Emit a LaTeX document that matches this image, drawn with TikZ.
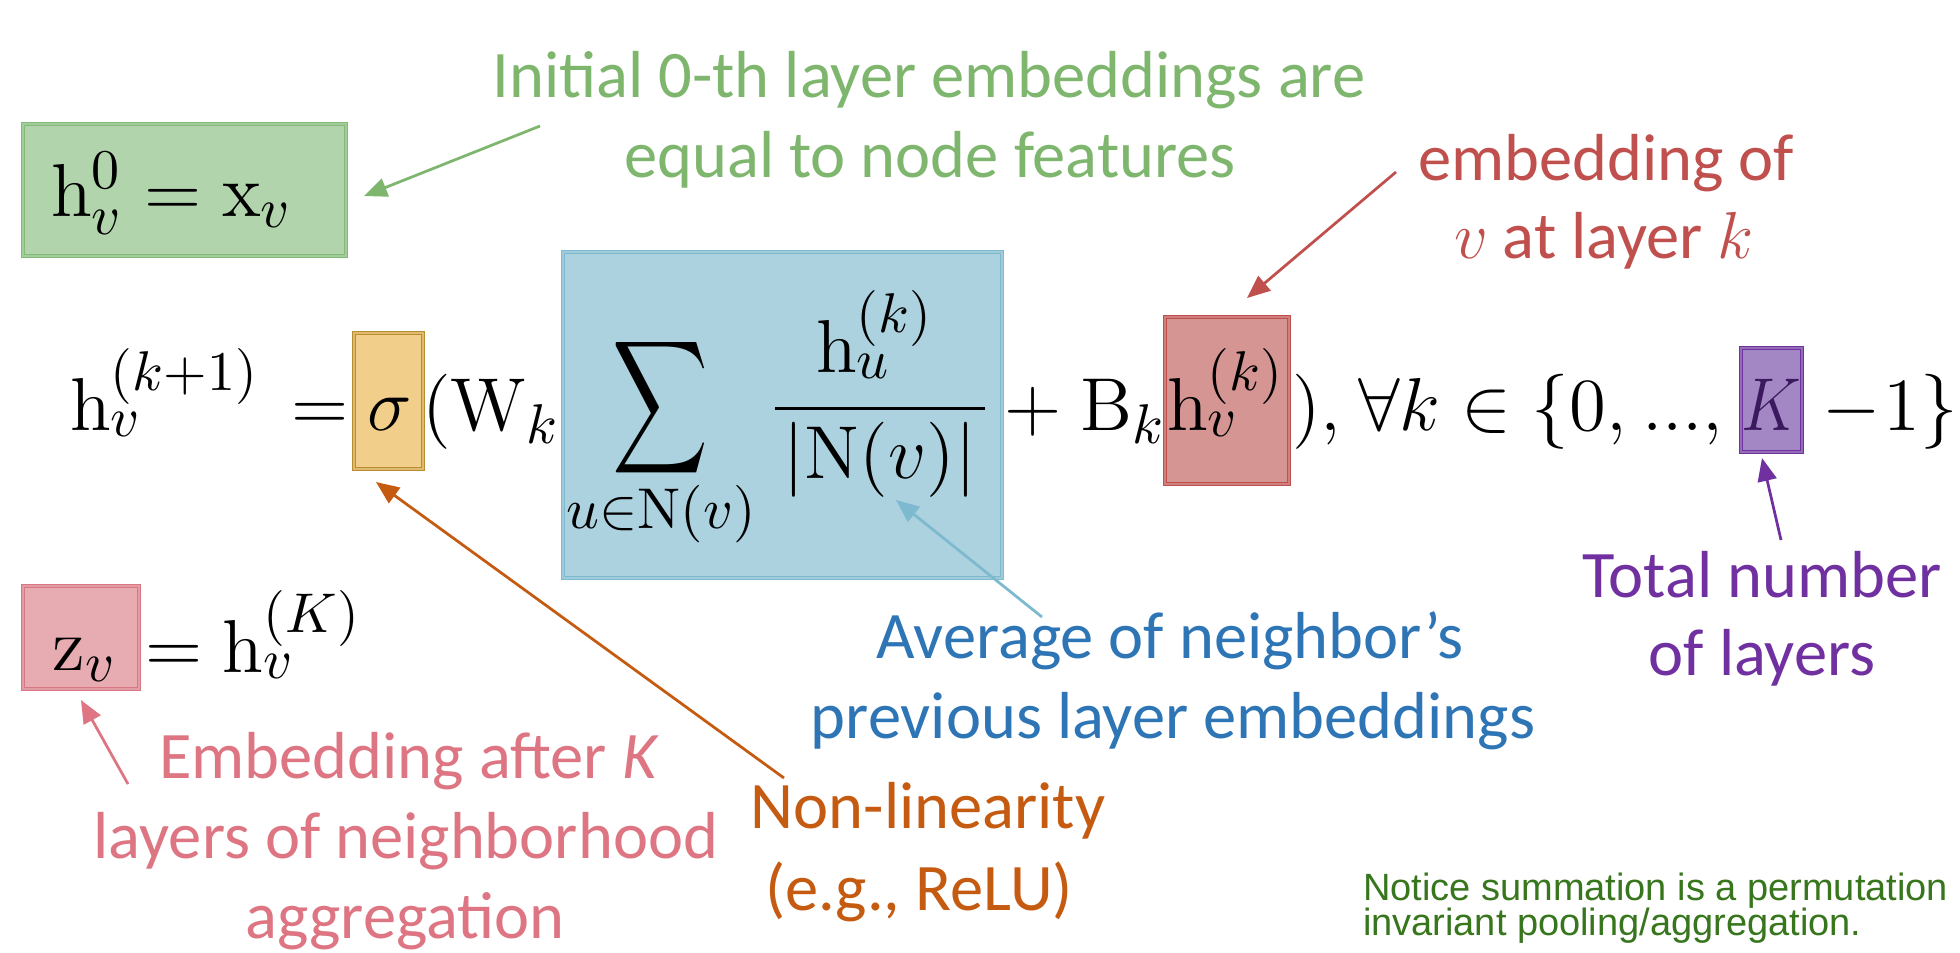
\RequirePackage{fix-cm}
\documentclass[tikz,border=0pt]{standalone}
\usepackage[no-math]{fontspec}
\setmainfont{Carlito}
\newfontfamily\notefont{Liberation Sans}
\usepackage{graphicx}
\usetikzlibrary{arrows.meta}
\DeclareMathSizes{15}{15}{11.2}{8.5}
\DeclareMathSizes{13.3}{13.3}{9.8}{7.5}
\definecolor{gTxt}{RGB}{126,182,110}
\definecolor{gFill}{RGB}{177,212,172}
\definecolor{gLine}{RGB}{130,186,118}
\definecolor{oTxt}{RGB}{197,90,17}
\definecolor{oFill}{RGB}{241,206,137}
\definecolor{oLine}{RGB}{184,140,48}
\definecolor{bTxt}{RGB}{46,117,182}
\definecolor{bFill}{RGB}{173,210,223}
\definecolor{bLine}{RGB}{125,185,207}
\definecolor{rTxt}{RGB}{192,80,77}
\definecolor{rFill}{RGB}{212,149,147}
\definecolor{rLine}{RGB}{192,80,77}
\definecolor{pTxt}{RGB}{112,48,160}
\definecolor{pFill}{RGB}{163,135,196}
\definecolor{pLine}{RGB}{112,48,160}
\definecolor{pDark}{RGB}{60,25,95}
\definecolor{kTxt}{RGB}{221,117,130}
\definecolor{kFill}{RGB}{230,172,178}
\definecolor{kLine}{RGB}{218,118,130}
\definecolor{nTxt}{RGB}{56,118,29}
\begin{document}
\begin{tikzpicture}[x=0.2pt,y=-0.2pt,
  every node/.style={inner sep=0pt,outer sep=0pt},
  fml/.style={font=\fontsize{15}{18}\selectfont,text=black,anchor=base west},
  ann/.style={font=\fontsize{13.3}{16}\selectfont,anchor=base},
  hbox/.style={draw,line width=0.3pt,double distance=0.25pt},
  arr/.style={line width=0.55pt,-{Triangle[length=4.6pt,width=3.8pt]}},
  note/.style={font=\notefont\fontsize{7.6}{9}\selectfont,text=nTxt,anchor=base west}]
\useasboundingbox (0,0) rectangle (1960,952);
\fill[white] (0,0) rectangle (1960,952);
% highlight boxes
\node[hbox,draw=gLine,double=gFill!70!gLine,fill=gFill,minimum width=64.6pt,minimum height=26.4pt] (greenbox) at (184.5,190) {};
\node[hbox,draw=oLine,double=oFill!70!oLine,fill=oFill,minimum width=13.8pt,minimum height=27.2pt] (orangebox) at (388.5,401) {};
\node[hbox,draw=bLine,double=bFill!70!bLine,fill=bFill,minimum width=87.8pt,minimum height=65.2pt] (bluebox) at (782.5,415) {};
\node[hbox,draw=rLine,double=rFill!70!rLine,fill=rFill,minimum width=24.8pt,minimum height=33.4pt] (redbox) at (1227,400.5) {};
\node[hbox,draw=pLine,double=pFill!70!pLine,fill=pFill,minimum width=12.2pt,minimum height=20.8pt] (purplebox) at (1771.5,400) {};
\node[hbox,draw=kLine,double=kFill!70!kLine,fill=kFill,minimum width=23.2pt,minimum height=20.6pt] (pinkbox) at (81,637.5) {};
% formulas
\node[fml] (h0) at (51,216) {$\mathrm{h}_v^0 = \mathrm{x}_v$};
\node[fml] (m1) at (70,430) {$\mathrm{h}_v^{(k+1)}$};
\node[fml,anchor=base] (m2) at (320,430) {$=$};
\node[fml,anchor=base] (m3) at (390,430) {$\sigma$};
\node[fml] (m4) at (422,430) {$(\mathrm{W}_k$};
\node (m5) at (660,407.5) {\resizebox*{19.2pt}{29.8pt}{$\displaystyle\sum$}};
\node[font=\fontsize{11.5}{14}\selectfont,anchor=base] (m6) at (661,528) {$u{\in}\mathrm{N}(v)$};
\node[fml] (m7) at (816,372) {$\mathrm{h}_u^{(k)}$};
\draw[line width=0.6pt] (775,408) -- (985,408);
\node[fml,anchor=base] (m8) at (880,478) {$|\mathrm{N}(v)|$};
\node[fml] (m9) at (1004,430) {$+$};
\node[fml] (m10) at (1080,430) {$\mathrm{B}_k$};
\node[fml] (m11) at (1167,430) {$\mathrm{h}_v^{(k)}$};
\node[fml] (m12) at (1292,430) {$),$};
\node[fml] (m13) at (1358,430) {$\forall k \in \{0,$};
\node[fml] (m13b) at (1642,430) {$\mathord{.}\mathord{.}\mathord{.}{,}$};
\node[fml,anchor=base,text=pDark] (m14) at (1771,430) {\scalebox{0.88}[1]{$K$}};
\node[fml] (m15) at (1822,430) {$-$};
\node[fml,anchor=base east] (m16) at (1958,430) {$1\}$};
\node[fml] (z1) at (53,670) {$\mathrm{z}_v$};
\node[fml] (z2) at (145,672) {$=\mathrm{h}_v^{(K)}$};
% annotations
\node[ann,text=gTxt] (g1) at (929,97) {Initial 0-th layer embeddings are};
\node[ann,text=gTxt] (g2) at (930,177) {equal to node features};
\node[ann,text=rTxt] (r1) at (1606,180) {embedding of};
\node[ann,text=rTxt] (r2) at (1604,258) {$v$ at layer $k$};
\node[ann,text=pTxt] (p1) at (1762,597) {Total number};
\node[ann,text=pTxt] (p2) at (1762,675) {of layers};
\node[ann,text=bTxt] (b1) at (1170,658) {Average of neighbor’s};
\node[ann,text=bTxt] (b2) at (1173,738) {previous layer embeddings};
\node[ann,text=oTxt] (o1) at (928,828) {Non-linearity};
\node[ann,text=oTxt] (o2) at (919,910) {(e.g., ReLU)};
\node[ann,text=kTxt] (k1) at (409,778) {Embedding after \textit{K}};
\node[ann,text=kTxt] (k2) at (406,858) {layers of neighborhood};
\node[ann,text=kTxt] (k3) at (405,938) {aggregation};
\node[note] (n1) at (1363,900) {Notice summation is a permutation};
\node[note] (n2) at (1363,935) {invariant pooling/aggregation.};
% arrows
\coordinate (gT) at (540,126); \coordinate (gH) at (364,196);
\coordinate (rT) at (1396,172); \coordinate (rH) at (1247,298);
\coordinate (pT) at (1781,540); \coordinate (pH) at (1762,458);
\coordinate (bT) at (1042,617); \coordinate (bH) at (896,500);
\coordinate (oT) at (784,778); \coordinate (oH) at (376,482);
\coordinate (kT) at (128,784); \coordinate (kH) at (81,700);
\draw[arr,gTxt] (gT) -- (gH);
\draw[arr,rTxt] (rT) -- (rH);
\draw[arr,pTxt] (pT) -- (pH);
\draw[arr,bLine] (bT) -- (bH);
\draw[arr,oTxt] (oT) -- (oH);
\draw[arr,kTxt] (kT) -- (kH);
\end{tikzpicture}
\end{document}
